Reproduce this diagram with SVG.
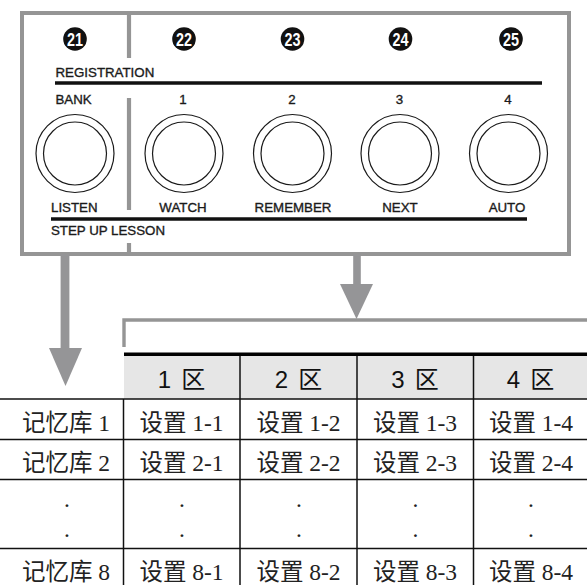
<svg xmlns="http://www.w3.org/2000/svg" width="587" height="585" viewBox="0 0 587 585">
<style>
.gray{stroke:#959595;fill:none}
.grayf{fill:#959597}
.lbl{font-family:"Liberation Sans","DejaVu Sans",sans-serif;font-size:13.3px;fill:#1a1a1a;stroke:#1a1a1a;stroke-width:0.35}
.mid{text-anchor:middle}
.badge{fill:#111}
.bnum{font-family:"Liberation Sans",sans-serif;font-weight:bold;font-size:18px;fill:#fff;text-anchor:middle}
.ring{fill:none;stroke:#1a1a1a;stroke-width:1.2}
.bar{stroke:#111;stroke-width:3.6}
.tl{stroke:#111;stroke-width:1.5}
.hd{font-family:"Liberation Sans","Noto Sans CJK SC",sans-serif;font-size:24px;fill:#111;text-anchor:middle;word-spacing:3.5px}
.cell{font-family:"Liberation Serif","Noto Sans CJK SC",serif;font-size:23.5px;fill:#222;text-anchor:middle}
</style>
<rect width="587" height="585" fill="#fff"/>

<g id="panel">
<rect x="22" y="13" width="547" height="241" class="gray" stroke-width="4"/>
<line x1="129" y1="13" x2="129" y2="58" class="gray" stroke-width="4.2"/>
<line x1="129" y1="98" x2="129" y2="210" class="gray" stroke-width="4.2"/>
<line x1="129" y1="243" x2="129" y2="254" class="gray" stroke-width="4.2"/>
<text x="55.5" y="77.3" class="lbl">REGISTRATION</text>
<line x1="55" y1="83" x2="542" y2="83" class="bar"/>
<line x1="51" y1="219" x2="527" y2="219" class="bar"/>
<text x="51" y="235" class="lbl">STEP UP LESSON</text>
</g>

<g id="button-21">
<circle cx="75" cy="39" r="11.8" class="badge"/>
<text x="75" y="45.8" class="bnum" textLength="16" lengthAdjust="spacingAndGlyphs">21</text>
<text x="55.5" y="104" class="lbl">BANK</text>
<circle cx="75" cy="153.5" r="39" class="ring"/>
<circle cx="75" cy="153.5" r="31.5" class="ring"/>
<text x="51" y="211.7" class="lbl">LISTEN</text>
</g>

<g id="button-22">
<circle cx="184" cy="39" r="11.8" class="badge"/>
<text x="184" y="45.8" class="bnum" textLength="16" lengthAdjust="spacingAndGlyphs">22</text>
<text x="183" y="104" class="lbl mid">1</text>
<circle cx="184" cy="153.5" r="39" class="ring"/>
<circle cx="184" cy="153.5" r="31.5" class="ring"/>
<text x="183" y="211.7" class="lbl mid">WATCH</text>
</g>

<g id="button-23">
<circle cx="292.5" cy="39" r="11.8" class="badge"/>
<text x="292.5" y="45.8" class="bnum" textLength="16" lengthAdjust="spacingAndGlyphs">23</text>
<text x="292" y="104" class="lbl mid">2</text>
<circle cx="292.5" cy="153.5" r="39" class="ring"/>
<circle cx="292.5" cy="153.5" r="31.5" class="ring"/>
<text x="293" y="211.7" class="lbl mid">REMEMBER</text>
</g>

<g id="button-24">
<circle cx="400.5" cy="39" r="11.8" class="badge"/>
<text x="400.5" y="45.8" class="bnum" textLength="16" lengthAdjust="spacingAndGlyphs">24</text>
<text x="399.5" y="104" class="lbl mid">3</text>
<circle cx="400" cy="153.5" r="39" class="ring"/>
<circle cx="400" cy="153.5" r="31.5" class="ring"/>
<text x="400" y="211.7" class="lbl mid">NEXT</text>
</g>

<g id="button-25">
<circle cx="511" cy="39" r="11.8" class="badge"/>
<text x="511" y="45.8" class="bnum" textLength="16" lengthAdjust="spacingAndGlyphs">25</text>
<text x="508" y="104" class="lbl mid">4</text>
<circle cx="508.5" cy="153.5" r="39" class="ring"/>
<circle cx="508.5" cy="153.5" r="31.5" class="ring"/>
<text x="507" y="211.7" class="lbl mid">AUTO</text>
</g>

<g id="connectors">
<rect x="60.6" y="254" width="8.8" height="95" class="grayf"/>
<polygon points="49,348 82,348 65.5,386" class="grayf"/>
<rect x="353.2" y="254" width="7.6" height="31" class="grayf"/>
<polygon points="340,284 373,284 356.5,319" class="grayf"/>
<polyline points="124,347 124,320 587,320" class="gray" stroke-width="3.4"/>
</g>

<g id="table">
<rect x="124" y="356" width="463" height="43" fill="#e6e6e6"/>
<line x1="124" y1="354.3" x2="587" y2="354.3" stroke="#000" stroke-width="3.4"/>
<line x1="0" y1="399" x2="587" y2="399" class="tl"/>
<line x1="0" y1="439.5" x2="587" y2="439.5" class="tl"/>
<line x1="0" y1="479.5" x2="587" y2="479.5" class="tl"/>
<line x1="0" y1="548.5" x2="587" y2="548.5" class="tl"/>
<line x1="123.5" y1="399" x2="123.5" y2="585" class="tl"/>
<line x1="240" y1="356" x2="240" y2="585" class="tl"/>
<line x1="357" y1="356" x2="357" y2="585" class="tl"/>
<line x1="473.5" y1="356" x2="473.5" y2="585" class="tl"/>

<text x="181.5" y="388" class="hd">1 区</text>
<text x="298.5" y="388" class="hd">2 区</text>
<text x="415" y="388" class="hd">3 区</text>
<text x="530.5" y="388" class="hd">4 区</text>

<text x="66" y="431" class="cell">记忆库 1</text>
<text x="181.5" y="431" class="cell">设置 1-1</text>
<text x="298.5" y="431" class="cell">设置 1-2</text>
<text x="415" y="431" class="cell">设置 1-3</text>
<text x="531" y="431" class="cell">设置 1-4</text>

<text x="66" y="471" class="cell">记忆库 2</text>
<text x="181.5" y="471" class="cell">设置 2-1</text>
<text x="298.5" y="471" class="cell">设置 2-2</text>
<text x="415" y="471" class="cell">设置 2-3</text>
<text x="531" y="471" class="cell">设置 2-4</text>

<text x="67" y="507" class="cell">.</text>
<text x="182" y="507" class="cell">.</text>
<text x="299" y="507" class="cell">.</text>
<text x="415.5" y="507" class="cell">.</text>
<text x="531" y="507" class="cell">.</text>
<text x="67" y="537" class="cell">.</text>
<text x="182" y="537" class="cell">.</text>
<text x="299" y="537" class="cell">.</text>
<text x="415.5" y="537" class="cell">.</text>
<text x="531" y="537" class="cell">.</text>

<text x="66" y="580" class="cell">记忆库 8</text>
<text x="181.5" y="580" class="cell">设置 8-1</text>
<text x="298.5" y="580" class="cell">设置 8-2</text>
<text x="415" y="580" class="cell">设置 8-3</text>
<text x="531" y="580" class="cell">设置 8-4</text>
</g>
</svg>
